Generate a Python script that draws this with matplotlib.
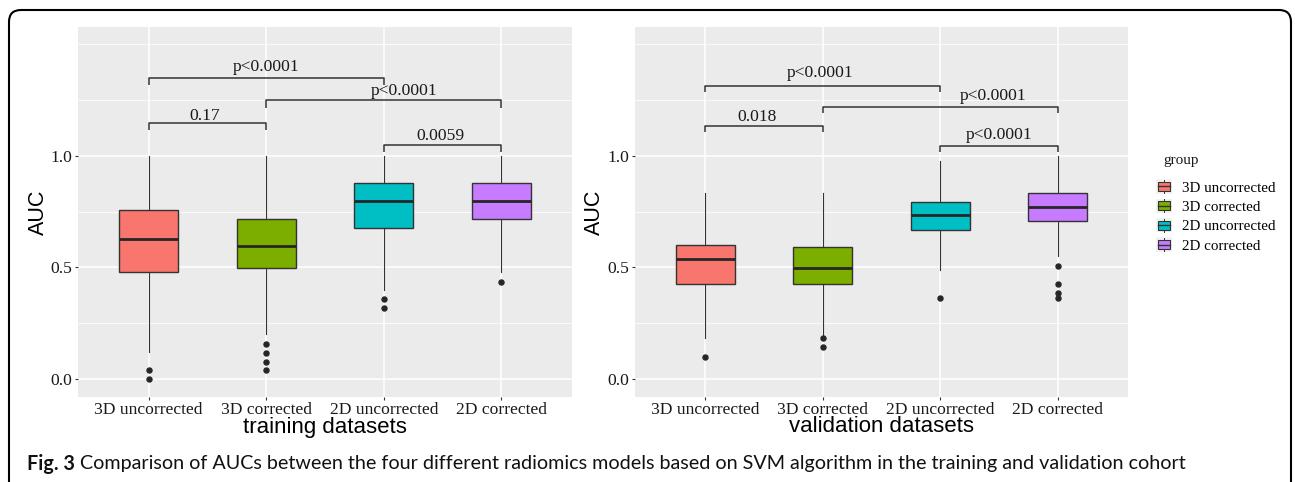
import matplotlib
matplotlib.use('Agg')
import matplotlib.pyplot as plt
from matplotlib.patches import Rectangle, FancyBboxPatch
from matplotlib.lines import Line2D
from matplotlib.legend_handler import HandlerBase
from matplotlib.transforms import IdentityTransform
from matplotlib.ticker import FixedLocator

# ---------------- data ----------------
groups = ['3D uncorrected', '3D corrected', '2D uncorrected', '2D corrected']
colors = ['#F8766D', '#7CAE00', '#00BFC4', '#C77CFF']

train_whislo = [0.12, 0.20, 0.40, 0.48]
train_q1 = [0.479, 0.499, 0.678, 0.717]
train_med = [0.628, 0.597, 0.797, 0.797]
train_q3 = [0.757, 0.716, 0.878, 0.878]
train_whishi = [1.0, 1.0, 1.0, 1.0]
train_fliers = [[0.039, 0.0], [0.158, 0.118, 0.077, 0.039], [0.357, 0.317], [0.437]]

val_whislo = [0.182, 0.197, 0.49, 0.55]
val_q1 = [0.428, 0.428, 0.667, 0.707]
val_med = [0.536, 0.499, 0.734, 0.773]
val_q3 = [0.600, 0.590, 0.794, 0.834]
val_whishi = [0.834, 0.834, 0.978, 1.0]
val_fliers = [[0.10], [0.182, 0.142], [0.364], [0.507, 0.427, 0.386, 0.364]]

bracket_pairs = [(1, 3), (2, 4), (1, 2), (3, 4)]
train_bracket_y = [1.348, 1.250, 1.146, 1.048]
train_bracket_tip = [1.320, 1.217, 1.118, 1.018]
train_labels = ['p<0.0001', 'p<0.0001', '0.17', '0.0059']
train_label_x = [2.0, 3.17, 1.48, 3.48]
train_label_y = [1.400, 1.290, 1.180, 1.090]

val_bracket_y = [1.312, 1.221, 1.134, 1.045]
val_bracket_tip = [1.285, 1.194, 1.108, 1.018]
val_labels = ['p<0.0001', 'p<0.0001', '0.018', 'p<0.0001']
val_label_x = [1.98, 3.45, 1.44, 3.50]
val_label_y = [1.372, 1.269, 1.175, 1.096]

y_major = [0.0, 0.5, 1.0]
y_major_labels = ['0.0', '0.5', '1.0']
y_minor = [0.25, 0.75, 1.25, 1.5]

legend_title = 'group'
caption_bold = 'Fig. 3'
caption_text = ('Comparison of AUCs between the four different radiomics models based on SVM '
                'algorithm in the training and validation cohort')

# ---------------- styling ----------------
W, H = 1295, 482
DPI = 100
SERIF = ['Liberation Serif', 'DejaVu Serif']
SANS = ['Liberation Sans', 'DejaVu Sans']
EDGE = '#333333'
TICKC = '#333333'

fig = plt.figure(figsize=(W / DPI, H / DPI), dpi=DPI, facecolor='white')


def px_axes(x0, x1, ytop, ybot):
    return fig.add_axes([x0 / W, 1 - ybot / H, (x1 - x0) / W, (ybot - ytop) / H])


def draw_panel(ax, whislo, q1, med, q3, whishi, fliers,
               by, btip, blabels, blx, bly, xlabel, ylab_x):
    stats = []
    for i in range(len(groups)):
        stats.append(dict(med=med[i], q1=q1[i], q3=q3[i], whislo=whislo[i],
                          whishi=whishi[i], fliers=fliers[i], label=groups[i]))
    ax.set_facecolor('#EBEBEB')
    ax.set_axisbelow(True)
    bp = ax.bxp(stats, positions=[1, 2, 3, 4], widths=0.5, patch_artist=True,
                showcaps=False,
                boxprops=dict(edgecolor=EDGE, linewidth=1.0),
                medianprops=dict(color='#262626', linewidth=2.0),
                whiskerprops=dict(color=EDGE, linewidth=0.8),
                flierprops=dict(marker='o', markersize=3.6, markerfacecolor='#262626',
                                markeredgecolor='#262626', linestyle='none'))
    for patch, c in zip(bp['boxes'], colors):
        patch.set_facecolor(c)

    # significance brackets
    for (a, b), y, tip, lab, lx, ly in zip(bracket_pairs, by, btip, blabels, blx, bly):
        ax.plot([a, a, b, b], [tip, y, y, tip], color=EDGE, lw=1.1, solid_capstyle='butt')
        ax.text(lx, ly, lab, ha='center', va='center', fontsize=12.6,
                family=SERIF, color='#1a1a1a')

    ax.set_xlim(0.4, 4.6)
    ax.set_ylim(-0.0807, 1.578)
    ax.set_xticks([1, 2, 3, 4])
    ax.set_xticklabels(groups)
    ax.yaxis.set_major_locator(FixedLocator(y_major))
    ax.set_yticklabels(y_major_labels)
    ax.yaxis.set_minor_locator(FixedLocator(y_minor))
    ax.grid(which='major', color='white', linewidth=1.1)
    ax.grid(which='minor', axis='y', color='white', linewidth=0.55)
    ax.tick_params(which='major', length=2.4, width=0.8, color=TICKC, pad=1.5,
                   labelsize=12.6, labelcolor='#1a1a1a')
    ax.tick_params(which='minor', length=0)
    for lab in ax.get_xticklabels() + ax.get_yticklabels():
        lab.set_family(SERIF)
    for s in ax.spines.values():
        s.set_visible(False)
    ax.set_xlabel(xlabel, fontsize=16, family=SANS, color='black', va='center')
    ax.xaxis.set_label_coords(0.5, (397 - 427) / 370)
    ax.set_ylabel('AUC', fontsize=15.5, family=SANS, color='black', va='center')
    ax.yaxis.set_label_coords(ylab_x, 0.5)


ax1 = px_axes(78, 572, 27, 397)
draw_panel(ax1, train_whislo, train_q1, train_med, train_q3, train_whishi, train_fliers,
           train_bracket_y, train_bracket_tip, train_labels, train_label_x, train_label_y,
           'training datasets', (38 - 78) / 494)

ax2 = px_axes(635, 1128, 27, 397)
draw_panel(ax2, val_whislo, val_q1, val_med, val_q3, val_whishi, val_fliers,
           val_bracket_y, val_bracket_tip, val_labels, val_label_x, val_label_y,
           'validation datasets', (594 - 635) / 493)


# ---------------- legend ----------------
class BoxKeyHandler(HandlerBase):
    def create_artists(self, legend, orig_handle, xdescent, ydescent, width, height,
                       fontsize, trans):
        c = orig_handle.get_facecolor()
        x0, y0 = -xdescent, -ydescent
        bg = Rectangle((x0, y0), width, height, facecolor='#F2F2F2', edgecolor='none',
                       transform=trans)
        bx = Rectangle((x0 + width * 0.12, y0 + height * 0.2), width * 0.76, height * 0.6,
                       facecolor=c, edgecolor=EDGE, lw=0.8, transform=trans)
        med = Line2D([x0 + width * 0.12, x0 + width * 0.88], [y0 + height * 0.5] * 2,
                     color=EDGE, lw=1.0, transform=trans)
        w1 = Line2D([x0 + width / 2] * 2, [y0 + height * 0.05, y0 + height * 0.2],
                    color=EDGE, lw=0.7, transform=trans)
        w2 = Line2D([x0 + width / 2] * 2, [y0 + height * 0.8, y0 + height * 0.95],
                    color=EDGE, lw=0.7, transform=trans)
        return [bg, bx, med, w1, w2]


LEG_FS = 10.8
handles = [Rectangle((0, 0), 1, 1, facecolor=c) for c in colors]


def make_legend(top_px, spacing):
    return fig.legend(handles, groups, loc='upper left',
                      bbox_to_anchor=(1156 / W, 1 - top_px / H), frameon=False,
                      prop={'family': SERIF, 'size': LEG_FS},
                      handler_map={Rectangle: BoxKeyHandler()},
                      handlelength=1.05, handleheight=1.1, labelspacing=spacing,
                      handletextpad=0.65, borderpad=0, borderaxespad=0)


leg_top, leg_sp = 179.0, 0.15
leg = make_legend(leg_top, leg_sp)
fig.text(1163 / W, 1 - 161 / H, legend_title, family=SERIF, fontsize=11,
         ha='left', va='center', color='#1a1a1a')

# ---------------- frame & caption ----------------
frame = FancyBboxPatch((9, -40), 1291 - 9, (H - 10) + 40,
                       boxstyle='round,pad=0,rounding_size=12',
                       transform=IdentityTransform(), facecolor='none',
                       edgecolor='black', linewidth=1.5)
fig.add_artist(frame)

cap_fam = ['Lato', 'DejaVu Sans']
yc = 1 - 464 / H
t1 = fig.text(27 / W, yc, caption_bold, fontsize=12, fontweight='bold', family=cap_fam,
              va='center', ha='left', color='#111111')
t2 = fig.text(0.1, yc, caption_text, fontsize=12, family=cap_fam,
              va='center', ha='left', color='#111111')
fig.canvas.draw()
r = fig.canvas.get_renderer()
target = 1188 - 27
for _ in range(3):
    e1 = t1.get_window_extent(r)
    t2.set_x((e1.x1 + 5) / W)
    e2 = t2.get_window_extent(r)
    total = e2.x1 - e1.x0
    s = target / total
    t1.set_fontsize(t1.get_fontsize() * s)
    t2.set_fontsize(t2.get_fontsize() * s)
e1 = t1.get_window_extent(r)
t2.set_x((e1.x1 + 5) / W)

# fit legend rows: first row centre at y=188 px, row pitch 19.4 px
for _ in range(3):
    fig.canvas.draw()
    tx = leg.get_texts()
    c0 = H - (tx[0].get_window_extent(r).y0 + tx[0].get_window_extent(r).y1) / 2
    c3 = H - (tx[3].get_window_extent(r).y0 + tx[3].get_window_extent(r).y1) / 2
    pitch = (c3 - c0) / 3
    leg_sp = leg_sp + (19.4 - pitch) / (LEG_FS * DPI / 72)
    leg_top = leg_top + (188 - c0)
    leg.remove()
    leg = make_legend(leg_top, leg_sp)

fig.savefig('out.png', dpi=DPI, facecolor='white')
